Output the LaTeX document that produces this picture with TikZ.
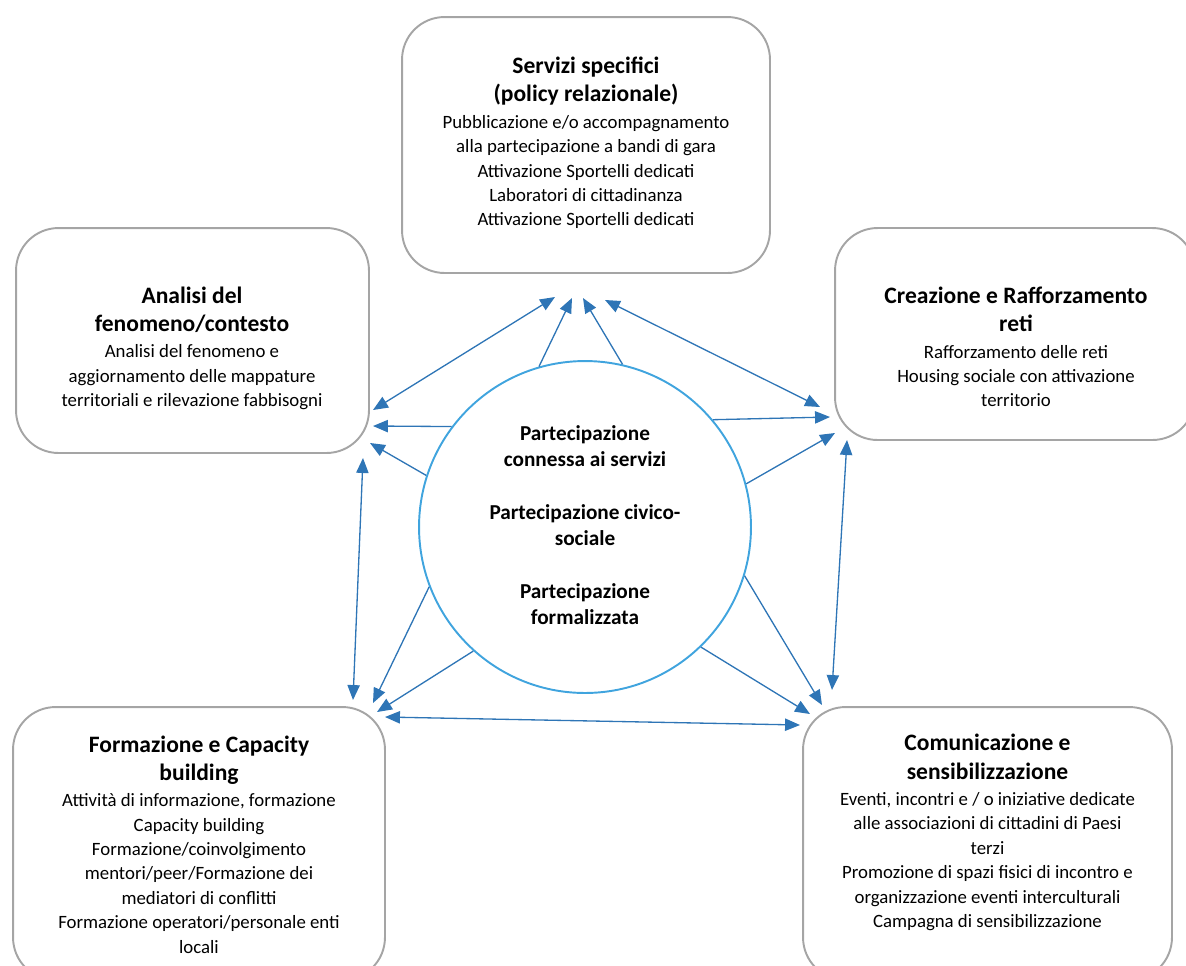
\documentclass[tikz,border=0pt]{standalone}
\usepackage{fontspec}
\setmainfont{Carlito}
\usepackage{tikz}
\usepackage{xcolor}
\usetikzlibrary{arrows.meta}
\definecolor{arrowblue}{RGB}{46,117,182}
\definecolor{ringblue}{RGB}{64,164,222}
\definecolor{boxgray}{RGB}{165,165,165}
\newcommand{\ttl}[1]{{\fontsize{13.4}{16}\selectfont\bfseries #1}}

\begin{document}
\begin{tikzpicture}[x=0.02cm,y=-0.02cm,
    box/.style={draw=boxgray,line width=1.1pt,rounded corners=0.85cm,rectangle,inner sep=0pt,outer sep=0pt},
    txt/.style={align=center,font=\fontsize{10.7}{13.9}\selectfont,inner sep=0pt},
    link/.style={arrowblue,line width=0.75pt,-{Triangle[length=8.5pt,width=7pt]}},
    both/.style={arrowblue,line width=0.75pt,{Triangle[length=8.5pt,width=7pt]}-{Triangle[length=8.5pt,width=7pt]}}]
    \useasboundingbox (0,0) rectangle (1186,965);

    % boxes
    \node[box,minimum width=7.36cm,minimum height=5.12cm] (servbox) at (586,145) {};
    \node[box,minimum width=7.06cm,minimum height=4.5cm] (analbox) at (192.5,340.5) {};
    \node[box,minimum width=7.2cm,minimum height=4.24cm] (retibox) at (1015,334) {};
    \node[box,minimum width=7.44cm,minimum height=5.46cm] (formbox) at (199,843.5) {};
    \node[box,minimum width=7.38cm,minimum height=5.46cm] (comubox) at (987.5,843.5) {};
    \node[circle,draw=ringblue,line width=1.1pt,minimum size=6.64cm,inner sep=0pt] (ring) at (585,527) {};

    \node[txt] (servtxt) at (586,143) {\ttl{Servizi specifici}\\[2.2pt]\ttl{(policy relazionale)}\\[1pt]
      Pubblicazione e/o accompagnamento\\alla partecipazione a bandi di gara\\
      Attivazione Sportelli dedicati\\Laboratori di cittadinanza\\Attivazione Sportelli dedicati};
    \node[txt] (analtxt) at (192,348.5) {\ttl{Analisi del}\\[2.2pt]\ttl{fenomeno/contesto}\\[1pt]
      Analisi del fenomeno e\\aggiornamento delle mappature\\territoriali e rilevazione fabbisogni};
    \node[txt] (retitxt) at (1016,347) {\ttl{Creazione e Rafforzamento}\\[2.2pt]\ttl{reti}\\[1pt]
      Rafforzamento delle reti\\Housing sociale con attivazione\\territorio};
    \node[txt] (formtxt) at (199,844.5) {\ttl{Formazione e Capacity}\\[2.2pt]\ttl{building}\\[1pt]
      Attività di informazione, formazione\\Capacity building\\Formazione/coinvolgimento\\
      mentori/peer/Formazione dei\\mediatori di conflitti\\Formazione operatori/personale enti\\locali};
    \node[txt] (comutxt) at (987.5,832.5) {\ttl{Comunicazione e}\\[2.2pt]\ttl{sensibilizzazione}\\[1pt]
      Eventi, incontri e / o iniziative dedicate\\alle associazioni di cittadini di Paesi\\terzi\\
      Promozione di spazi fisici di incontro e\\organizzazione eventi interculturali\\Campagna di sensibilizzazione};
    \node[txt,font=\fontsize{12.1}{15}\selectfont\bfseries] (ringtxt) at (585,525) {Partecipazione\\connessa ai servizi\\[15pt]
      Partecipazione civico-\\sociale\\[15pt]Partecipazione\\formalizzata};

    % arrow ends
    \coordinate (l1) at (373,410);
    \coordinate (l2) at (373,426);
    \coordinate (l3) at (370,443);
    \coordinate (l4) at (363,458);
    \coordinate (t1) at (555,297);
    \coordinate (t2) at (572,298);
    \coordinate (t3) at (583,298);
    \coordinate (t4) at (605,300);
    \coordinate (r1) at (820,407);
    \coordinate (r2) at (830,417);
    \coordinate (r3) at (835,433);
    \coordinate (r4) at (847,440);
    \coordinate (bl1) at (353,700);
    \coordinate (bl2) at (373,703);
    \coordinate (bl3) at (377,712);
    \coordinate (bl4) at (385,717);
    \coordinate (br1) at (800,725);
    \coordinate (br2) at (810,714);
    \coordinate (br3) at (822,705);
    \coordinate (br4) at (832,690);

    \draw[both] (l1) -- (t1);
    \draw[both] (t4) -- (r1);
    \draw[both] (l4) -- (bl1);
    \draw[both] (r4) -- (br4);
    \draw[both] (bl4) -- (br1);
    \foreach \ang/\dest in {106/t2,77/t3,143/l2,40/r2,162/l3,15/r3,201/bl2,228/bl3,314/br2,343/br3}{
      \draw[link] (ring.\ang) -- (\dest);
      }
\end{tikzpicture}
\end{document}
